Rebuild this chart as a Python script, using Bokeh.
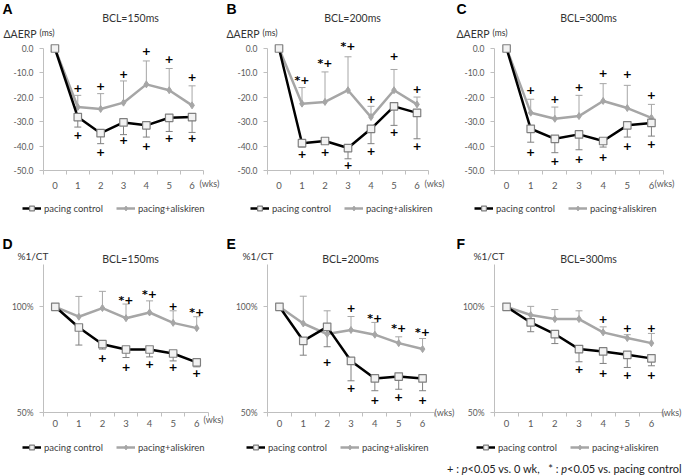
from bokeh.plotting import figure
from bokeh.models import (FixedTicker, PrintfTickFormatter, Label, LabelSet, ColumnDataSource,
                          Whisker, TeeHead, Legend, LegendItem, Range1d, Div, LinearAxis)
from bokeh.layouts import row, column
from bokeh.core.properties import value
from bokeh.embed import file_html
from bokeh.resources import INLINE

# ---------------- data ----------------
weeks = [0, 1, 2, 3, 4, 5, 6]
week_labels = ["0", "1", "2", "3", "4", "5", "6"]
series_names = ["pacing control", "pacing+aliskiren"]

# Delta AERP (ms)
A_ctrl = [0, -28.1, -34.7, -30.3, -31.5, -28.4, -28.1]
A_ctrl_sd = [0, 4.1, 4.3, 5.0, 4.8, 5.6, 6.3]
A_alis = [0, -24.0, -24.8, -22.2, -14.7, -17.1, -23.3]
A_alis_sd = [0, 4.8, 6.3, 8.9, 9.6, 8.9, 8.0]
A_sig_above_wk = [1, 2, 3, 4, 5, 6]
A_sig_above_y = [-16.2, -15.5, -10.3, -1.1, -4.5, -11.6]
A_sig_above_txt = ["+", "+", "+", "+", "+", "+"]
A_sig_below_wk = [1, 2, 3, 4, 5, 6]
A_sig_below_y = [-35.3, -42.5, -37.7, -40.0, -36.7, -36.7]

B_ctrl = [0, -38.8, -37.9, -40.8, -32.9, -23.7, -26.4]
B_ctrl_sd = [0, 1.6, 1.1, 4.4, 6.1, 7.8, 10.6]
B_alis = [0, -22.6, -21.9, -17.1, -28.1, -17.1, -22.9]
B_alis_sd = [0, 6.6, 12.3, 13.7, 4.4, 8.5, 3.0]
B_sig_above_wk = [1, 2, 3, 4, 5, 6]
B_sig_above_y = [-13.0, -6.2, 0.7, -20.8, -3.2, -16.7]
B_sig_above_txt = ["*+", "*+", "*+", "+", "+", "+"]
B_sig_below_wk = [1, 2, 3, 4, 5, 6]
B_sig_below_y = [-43.4, -42.5, -47.9, -42.1, -34.2, -40.0]

C_ctrl = [0, -32.9, -37.0, -35.2, -37.9, -31.5, -30.5]
C_ctrl_sd = [0, 5.5, 5.7, 6.3, 2.5, 4.8, 5.4]
C_alis = [0, -26.3, -28.8, -27.7, -21.5, -24.4, -28.4]
C_alis_sd = [0, 5.5, 4.8, 8.5, 7.1, 9.3, 5.5]
C_sig_above_wk = [1, 2, 3, 4, 5, 6]
C_sig_above_y = [-17.1, -20.8, -15.8, -10.0, -10.5, -19.2]
C_sig_above_txt = ["+", "+", "+", "+", "+", "+"]
C_sig_below_wk = [1, 2, 3, 4, 5, 6]
C_sig_below_y = [-42.5, -46.3, -45.3, -44.5, -40.0, -39.0]

# %1/CT
D_ctrl = [100, 90.2, 82.3, 79.8, 79.8, 77.9, 73.7]
D_ctrl_sd = [0, 8.3, 2.3, 3.8, 3.5, 3.5, 2.1]
D_alis = [100, 95.3, 99.4, 94.6, 97.3, 92.4, 89.9]
D_alis_sd = [0, 9.6, 7.9, 6.7, 5.5, 5.7, 5.4]
D_sig_above_wk = [3, 4, 5, 6]
D_sig_above_y = [103.2, 105.7, 100.5, 97.3]
D_sig_above_txt = ["*+", "*+", "+", "*+"]
D_sig_below_wk = [2, 3, 4, 5, 6]
D_sig_below_y = [75.7, 71.6, 72.9, 71.3, 68.5]

E_ctrl = [100, 83.9, 90.5, 74.4, 66.1, 67.0, 66.1]
E_ctrl_sd = [0, 6.8, 9.4, 9.4, 5.8, 6.0, 5.8]
E_alis = [100, 92.1, 87.1, 89.0, 86.8, 82.8, 80.0]
E_alis_sd = [0, 12.9, 11.0, 6.4, 5.8, 3.0, 5.0]
E_sig_above_wk = [3, 4, 5, 6]
E_sig_above_y = [99.4, 94.6, 89.9, 87.9]
E_sig_above_txt = ["+", "*+", "*+", "*+"]
E_sig_below_wk = [2, 3, 4, 5, 6]
E_sig_below_y = [73.7, 61.5, 55.8, 57.4, 55.8]

F_ctrl = [100, 92.6, 87.1, 80.0, 78.9, 77.3, 75.6]
F_ctrl_sd = [0, 4.4, 4.5, 6.0, 5.7, 6.0, 3.5]
F_alis = [100, 96.1, 94.2, 94.2, 87.9, 85.2, 82.8]
F_alis_sd = [0, 4.1, 4.5, 3.9, 2.6, 1.6, 4.6]
F_sig_above_wk = [4, 5, 6]
F_sig_above_y = [94.2, 89.9, 89.9]
F_sig_above_txt = ["+", "+", "+"]
F_sig_below_wk = [3, 4, 5, 6]
F_sig_below_y = [70.5, 68.9, 67.8, 67.8]

aerp_ticks = [-50, -40, -30, -20, -10, 0]
ct_ticks = [50, 100]

# ---------------- style ----------------
FONT = "Lato"
AXIS_COL = "#bfbfbf"
TICK_TXT = "#595959"
TXT = "#333333"
CTRL_COL = "#000000"
CTRL_ERR = "#808080"
ALIS_COL = "#a6a6a6"


def lab(p, g, text, rx, ry, size="10px", font=FONT, style="normal", color=TXT, align="left"):
    # position given in picture pixels, converted to this canvas (frame == canvas)
    p.add_layout(Label(x=rx - g["x"], y=(g["y"] + g["h"]) - ry, x_units="screen", y_units="screen",
                       text=text, text_font=font, text_font_size=size, text_font_style=style,
                       text_color=color, text_align=align, text_baseline="middle"))


def panel(g, letter, title, ylab, yunit, ctrl, ctrl_sd, alis, alis_sd,
          ab_wk, ab_y, ab_t, bl_wk, bl_y, yrange, yticks, yfmt):
    x0, x1 = weeks[0] - 0.5, weeks[-1] + 0.5
    ymin, ymax = yrange
    ux = (g["fr"] - g["fl"]) / (x1 - x0)
    uy = (g["fb"] - g["ft"]) / (ymax - ymin)
    xr = Range1d(x0 - (g["fl"] - g["x"]) / ux, x1 + (g["x"] + g["w"] - g["fr"]) / ux)
    yr = Range1d(ymin - (g["y"] + g["h"] - g["fb"]) / uy, ymax + (g["ft"] - g["y"]) / uy)
    p = figure(width=g["w"], height=g["h"], x_range=xr, y_range=yr,
               output_backend="svg", toolbar_location=None, title=None,
               x_axis_location=None, y_axis_location=None,
               min_border=0, min_border_left=0, min_border_right=0,
               min_border_top=0, min_border_bottom=0)
    p.outline_line_color = None
    p.xgrid.visible = False
    p.ygrid.visible = False
    p.background_fill_color = "white"
    p.border_fill_color = "white"

    xa = LinearAxis(fixed_location=ymin, bounds=(x0, x1))
    xa.ticker = FixedTicker(ticks=weeks, minor_ticks=[w - 0.5 for w in weeks] + [x1])
    xa.major_label_overrides = {w: s for w, s in zip(weeks, week_labels)}
    xa.major_tick_out = 0
    xa.major_tick_in = 0
    xa.minor_tick_out = 4
    xa.minor_tick_in = 0
    xa.major_label_standoff = g["xstand"]
    xa.major_label_text_font_size = "9.5px"
    ya = LinearAxis(fixed_location=x0, bounds=(ymin, ymax))
    ya.ticker = FixedTicker(ticks=yticks)
    ya.formatter = PrintfTickFormatter(format=yfmt)
    ya.major_tick_out = 4
    ya.major_tick_in = 0
    ya.minor_tick_out = 0
    ya.minor_tick_in = 0
    ya.major_label_standoff = 6
    ya.major_label_text_font_size = "8.5px"
    for ax in (xa, ya):
        ax.axis_line_color = AXIS_COL
        ax.major_tick_line_color = AXIS_COL
        ax.minor_tick_line_color = AXIS_COL
        ax.major_label_text_color = TICK_TXT
        ax.major_label_text_font = FONT
    p.add_layout(xa, "below")
    p.add_layout(ya, "left")

    # error bars
    idx = [i for i in range(len(weeks)) if ctrl_sd[i] > 0]
    src_c = ColumnDataSource(dict(x=[weeks[i] for i in idx],
                                  lo=[ctrl[i] - ctrl_sd[i] for i in idx],
                                  hi=[ctrl[i] for i in idx]))
    wc = Whisker(source=src_c, base="x", lower="lo", upper="hi", line_color=CTRL_ERR, line_width=1,
                 lower_head=TeeHead(size=7, line_color=CTRL_ERR, line_width=1), upper_head=None,
                 level="underlay")
    idx = [i for i in range(len(weeks)) if alis_sd[i] > 0]
    src_a = ColumnDataSource(dict(x=[weeks[i] for i in idx],
                                  lo=[alis[i] for i in idx],
                                  hi=[alis[i] + alis_sd[i] for i in idx]))
    wa = Whisker(source=src_a, base="x", lower="lo", upper="hi", line_color=ALIS_COL, line_width=1,
                 upper_head=TeeHead(size=7, line_color=ALIS_COL, line_width=1), lower_head=None,
                 level="underlay")
    p.add_layout(wa)
    p.add_layout(wc)

    la = p.line(weeks, alis, line_color=ALIS_COL, line_width=2.5)
    sa = p.scatter(weeks, alis, marker="diamond", size=7, fill_color=ALIS_COL, line_color=ALIS_COL)
    lc = p.line(weeks, ctrl, line_color=CTRL_COL, line_width=2.5)
    sc = p.scatter(weeks, ctrl, marker="square", size=7.5, fill_color="#f2f2f2", line_color="#7f7f7f",
                   line_width=1.2)

    # significance marks
    s1 = ColumnDataSource(dict(x=ab_wk, y=ab_y, t=ab_t))
    s2 = ColumnDataSource(dict(x=bl_wk, y=bl_y, t=["+"] * len(bl_wk)))
    for s in (s1, s2):
        p.add_layout(LabelSet(x="x", y="y", text="t", source=s, text_align="center",
                              text_baseline="middle", text_font=value("DejaVu Sans"),
                              text_font_style="bold", text_font_size="11px", text_color="#000000"))

    # texts
    lab(p, g, letter, g["letter"][0], g["letter"][1], size="14px", font="Liberation Sans",
        style="bold", color="#000000")
    lab(p, g, title, g["title"][0], g["title"][1], size="10.5px", align="center")
    lab(p, g, ylab, g["ylab"][0], g["ylab"][1], size=g.get("ysize", "10.5px"))
    if yunit:
        lab(p, g, yunit, g["unit"][0], g["unit"][1], size="8.5px")
    lab(p, g, "(wks)", g["wks"][0], g["wks"][1], size="9px", color=TICK_TXT)

    leg = Legend(items=[LegendItem(label=series_names[0], renderers=[lc, sc]),
                        LegendItem(label=series_names[1], renderers=[la, sa])],
                 location=(g["leg"][0] - g["x"], (g["y"] + g["h"]) - g["leg"][1] - 6),
                 orientation="horizontal", border_line_alpha=0, background_fill_alpha=0,
                 label_text_font=FONT, label_text_font_size="9.5px", label_text_color="#404040",
                 glyph_width=19, glyph_height=12, label_height=12, label_standoff=3,
                 spacing=13, padding=0, margin=0)
    p.add_layout(leg)
    return p


# geometry in picture pixels
def geo(x, y, w, h, fl, fr, ft, fb, **kw):
    d = dict(x=x, y=y, w=w, h=h, fl=fl, fr=fr, ft=ft, fb=fb)
    d.update(kw)
    return d

gA = geo(0, 0, 225, 226, 43, 203, 48, 170, xstand=7, letter=(2, 8), title=(130, 17), ylab=(3, 33),
         unit=(39, 32), wks=(199, 183), leg=(22, 208))
gB = geo(225, 0, 230, 226, 267, 428, 48, 170, xstand=7, letter=(226, 8), title=(352, 17), ylab=(226, 33),
         unit=(262, 32), wks=(424, 183), leg=(250, 208))
gC = geo(455, 0, 229, 226, 494, 663, 48, 170, xstand=7, letter=(456, 8), title=(588, 17), ylab=(456, 33),
         unit=(492, 32), wks=(654, 183), leg=(474, 208))
gD = geo(0, 226, 225, 232, 43, 208, 264, 412, xstand=3, letter=(2, 243), title=(130, 258), ylab=(17, 255),
         ysize="10px", wks=(203, 419), leg=(22, 447))
gE = geo(225, 226, 230, 232, 267, 434, 264, 412, xstand=3, letter=(226, 243), title=(350, 258), ylab=(242, 255),
         ysize="10px", wks=(434, 412), leg=(246, 447))
gF = geo(455, 226, 229, 232, 494, 663, 264, 412, xstand=3, letter=(456, 243), title=(588, 258), ylab=(473, 255),
         ysize="10px", wks=(661, 412), leg=(476, 447))

pA = panel(gA, "A", "BCL=150ms", "\u0394AERP", "(ms)", A_ctrl, A_ctrl_sd, A_alis, A_alis_sd,
           A_sig_above_wk, A_sig_above_y, A_sig_above_txt, A_sig_below_wk, A_sig_below_y,
           (-50, 0), aerp_ticks, "%.1f")
pB = panel(gB, "B", "BCL=200ms", "\u0394AERP", "(ms)", B_ctrl, B_ctrl_sd, B_alis, B_alis_sd,
           B_sig_above_wk, B_sig_above_y, B_sig_above_txt, B_sig_below_wk, B_sig_below_y,
           (-50, 0), aerp_ticks, "%.1f")
pC = panel(gC, "C", "BCL=300ms", "\u0394AERP", "(ms)", C_ctrl, C_ctrl_sd, C_alis, C_alis_sd,
           C_sig_above_wk, C_sig_above_y, C_sig_above_txt, C_sig_below_wk, C_sig_below_y,
           (-50, 0), aerp_ticks, "%.1f")
pD = panel(gD, "D", "BCL=150ms", "%1/CT", None, D_ctrl, D_ctrl_sd, D_alis, D_alis_sd,
           D_sig_above_wk, D_sig_above_y, D_sig_above_txt, D_sig_below_wk, D_sig_below_y,
           (50, 120), ct_ticks, "%d%%")
pE = panel(gE, "E", "BCL=200ms", "%1/CT", None, E_ctrl, E_ctrl_sd, E_alis, E_alis_sd,
           E_sig_above_wk, E_sig_above_y, E_sig_above_txt, E_sig_below_wk, E_sig_below_y,
           (50, 120), ct_ticks, "%d%%")
pF = panel(gF, "F", "BCL=300ms", "%1/CT", None, F_ctrl, F_ctrl_sd, F_alis, F_alis_sd,
           F_sig_above_wk, F_sig_above_y, F_sig_above_txt, F_sig_below_wk, F_sig_below_y,
           (50, 120), ct_ticks, "%d%%")

foot = Div(text='+ : <i>p</i>&lt;0.05 vs. 0 wk,&nbsp;&nbsp; * : <i>p</i>&lt;0.05 vs. pacing control',
           width=684, height=12,
           styles={"font-family": "Lato", "font-size": "11px", "color": "#222222",
                   "padding-left": "442px", "line-height": "11px", "white-space": "nowrap"})

layout = column(row(pA, pB, pC, spacing=0), row(pD, pE, pF, spacing=0), foot, spacing=0)

open("out.html", "w").write(file_html(layout, INLINE))
